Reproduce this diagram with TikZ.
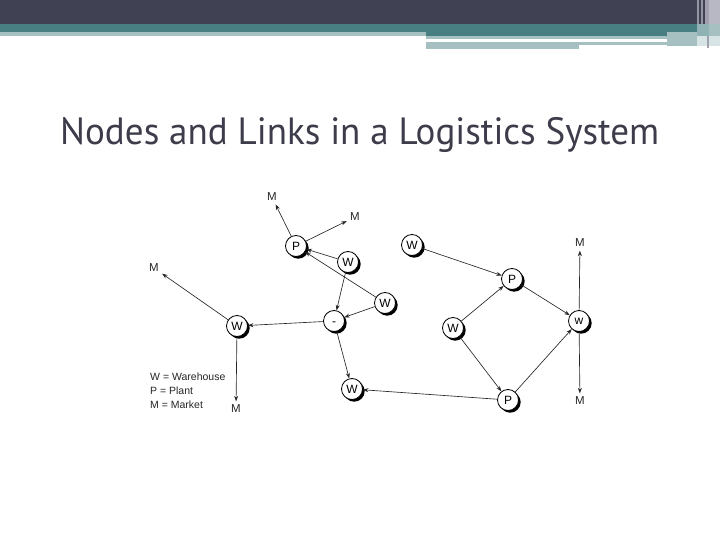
\documentclass[tikz,border=0pt]{standalone}
\usepackage{graphicx}
\usepackage{fontspec}
\setmainfont{Liberation Sans}
\newfontfamily\titlefont{PT Sans}
\usetikzlibrary{arrows.meta,shadows}
\definecolor{hdark}{RGB}{65,65,84}
\definecolor{hteal}{RGB}{71,127,130}
\definecolor{hlight}{RGB}{166,191,193}
\definecolor{hpale}{RGB}{214,228,229}
\definecolor{lavgray}{RGB}{184,184,196}
\definecolor{titlegray}{RGB}{60,60,74}
\tikzset{
  nd/.style={circle, draw=black, line width=0.8pt, fill=white, minimum size=21pt,
    inner sep=0pt, font=\fontsize{12}{12}\selectfont,
    drop shadow={shadow xshift=2.2pt, shadow yshift=-2.2pt, fill=black, opacity=1}},
  lbl/.style={inner sep=1.5pt, font=\fontsize{11.5}{11.5}\selectfont, text=black!85},
  link/.style={line width=0.65pt, draw=black!85, -{Stealth[length=5.5pt,width=4pt]}},
  tolbl/.style={link, shorten >=2pt},
  legend/.style={anchor=west, inner sep=0pt, font=\fontsize{10.5}{11}\selectfont, text=black!85},
}
\begin{document}
\begin{tikzpicture}[x=1pt,y=-1pt]
\useasboundingbox (0,0) rectangle (720,540);
% header bands
\fill[hdark] (0,0) rectangle (720,24);
\fill[hteal] (0,24) rectangle (720,32);
\fill[hlight] (0,32) rectangle (426,36);
\fill[hteal] (426,32) rectangle (697,36);
\fill[hlight] (426,36) rectangle (667,39);
\fill[hlight] (426,42) rectangle (667,45);
\fill[hlight] (426,45) rectangle (579,49);
\fill[hlight] (667,32) rectangle (697,46);
% right-hand vertical stripes
\fill[lavgray] (709,0) rectangle (720,24);
\fill[lavgray!70!hdark] (697,0) rectangle (699,24);
\fill[lavgray!70!hdark] (701,0) rectangle (703,24);
\fill[lavgray!80!hdark] (705,0) rectangle (709,24);
\fill[hteal!60!white] (697,24) rectangle (709,36);
\fill[hlight] (709,24) rectangle (720,36);
\fill[hpale] (697,36) rectangle (720,46);
\fill[lavgray!80!hdark] (707,36) rectangle (708.5,48);
% title
\node[anchor=base west, inner sep=0pt, text=titlegray] (title) at (60,145)
  {\resizebox{599pt}{\height}{\titlefont\fontsize{38}{44}\selectfont Nodes and Links in a Logistics System}};
% facility nodes
\node[nd] (P1) at (296,246) {P};
\node[nd] (W1) at (348,262) {W};
\node[nd] (W2) at (385,303) {W};
\node[nd] (D)  at (334,321) {\vphantom{W}-};
\node[nd] (WL) at (237,326) {W};
\node[nd] (WB) at (352,389) {W};
\node[nd] (WT) at (412,245) {W};
\node[nd] (PR) at (512,279) {P};
\node[nd] (WM) at (453,328) {W};
\node[nd] (WR) at (579,321) {w};
\node[nd] (PB) at (508,400) {P};
% market labels
\node[lbl] (M1) at (272,197) {M};
\node[lbl] (M2) at (355,217) {M};
\node[lbl] (M3) at (154,268) {M};
\node[lbl] (M4) at (236,409) {M};
\node[lbl] (M5) at (580,243) {M};
\node[lbl] (M6) at (580,401) {M};
% links
\draw[tolbl] (P1) -- (M1);
\draw[tolbl] (P1) -- (M2);
\draw[link] (W1) -- (P1);
\draw[link] (W2) -- (P1);
\draw[link] (W1) -- (D);
\draw[link] (W2) -- (D);
\draw[link] (D) -- (WL);
\draw[link] (D) -- (WB);
\draw[tolbl] (WL) -- (M3);
\draw[tolbl] (WL) -- (M4);
\draw[link] (PB) -- (WB);
\draw[link] (WT) -- (PR);
\draw[link] (WM) -- (PR);
\draw[link] (WM) -- (PB);
\draw[link] (PR) -- (WR);
\draw[link] (PB) -- (WR);
\draw[tolbl] (WR) -- (M5);
\draw[tolbl] (WR) -- (M6);
% legend
\node[legend] (L1) at (150,377) {W = Warehouse};
\node[legend] (L2) at (150,391) {P = Plant};
\node[legend] (L3) at (150,405) {M = Market};
\end{tikzpicture}
\end{document}
